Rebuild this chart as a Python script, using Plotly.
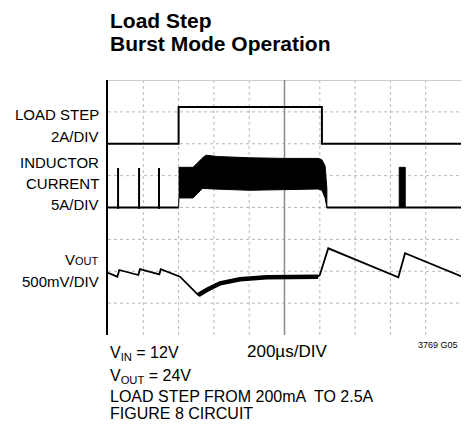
import plotly.graph_objects as go

# scope channel setup (division offset of each trace, units per division)
LOAD_OFFSET, LOAD_SCALE = 5.9, 2.0      # A/div
IL_OFFSET, IL_SCALE = 4.0, 5.0          # A/div
VOUT_OFFSET, VOUT_SCALE = 2.0, 500.0    # mV/div

# load step current (A) vs time (us)
load_t = [0, 400, 400, 1212, 1212, 2000]
load_a = [0.2, 0.2, 2.5, 2.5, 0.2, 0.2]

# inductor current: burst spikes before the step
spike_t = [57, 176, 289]
spike_peak = [6.2, 6.2, 6.2]
base_pre_t = [0, 400]
base_post_t = [1240, 2000]

# inductor current envelope during the step (A)
env_top_t = [400, 482, 540, 556, 620, 800, 1000, 1190, 1212, 1230, 1240]
env_top_a = [6.3, 6.3, 7.9, 8.2, 8.0, 7.8, 7.7, 7.7, 7.5, 6.5, 3.0]
env_bot_t = [400, 402, 482, 535, 600, 800, 1000, 1190, 1212, 1230, 1240]
env_bot_a = [0.0, 1.5, 1.5, 3.0, 2.9, 2.7, 2.8, 2.9, 2.7, 1.5, 0.0]

# single burst after the step
burst_t = [1650, 1684]
burst_peak = 6.3

# output voltage deviation (mV)
vout_t = [0, 53, 64, 172, 181, 291, 299, 408, 512, 559, 635, 748, 899,
          1190, 1200, 1248, 1645, 1683, 2000]
vout_mv = [-23, -85, 20, -59, 35, -48, 31, -85, -373, -294, -189, -126, -95,
           -85, -59, 360, -95, 282, -78]
thick_from, thick_to = 512, 1190

# graticule divisions
grid_t = [200, 400, 600, 800, 1200, 1400, 1600, 1800]
grid_div = [1, 2, 3, 4, 5, 6, 7]

FONT = "Liberation Sans, Arial, sans-serif"
PAGE = 8  # body margin of the html page
W, H = 474 - PAGE, 424 - PAGE
L, R, T, B = 108 - PAGE, 461 - PAGE, 80 - PAGE, 335 - PAGE


def div(vals, off, scale):
    return [off + v / scale if v is not None else None for v in vals]


fig = go.Figure()

# graticule (drawn below the traces)
for g in grid_t:
    fig.add_vline(x=g, layer="below", line=dict(color="#b8b8b8", width=1, dash="3px,3px"))
for g in grid_div:
    fig.add_hline(y=g, layer="below", line=dict(color="#b8b8b8", width=1, dash="3px,3px"))
fig.add_hline(y=8, layer="below", line=dict(color="#cccccc", width=2))
fig.add_vline(x=1000, layer="below", line=dict(color="#8a8a8a", width=1.5))

# load step
fig.add_trace(go.Scatter(x=load_t, y=div(load_a, LOAD_OFFSET, LOAD_SCALE),
                         mode="lines", line=dict(color="black", width=2)))

# inductor baseline + spikes
sx, sy = [], []
for t, p in zip(spike_t, spike_peak):
    sx += [t, t, None]
    sy += [-0.2, p, None]
fig.add_trace(go.Scatter(x=sx, y=div(sy, IL_OFFSET, IL_SCALE),
                         mode="lines", line=dict(color="black", width=2)))
for bt in (base_pre_t, base_post_t):
    fig.add_trace(go.Scatter(x=bt, y=div([0, 0], IL_OFFSET, IL_SCALE),
                             mode="lines", line=dict(color="black", width=2)))

# envelope during load
poly_t = env_top_t + env_bot_t[::-1]
poly_a = env_top_a + env_bot_a[::-1]
fig.add_trace(go.Scatter(x=poly_t, y=div(poly_a, IL_OFFSET, IL_SCALE), mode="lines",
                         fill="toself", fillcolor="black", line=dict(color="black", width=1)))

# burst after load release
bx = [burst_t[0], burst_t[0], burst_t[1], burst_t[1]]
by = [0, burst_peak, burst_peak, 0]
fig.add_trace(go.Scatter(x=bx, y=div(by, IL_OFFSET, IL_SCALE), mode="lines",
                         fill="toself", fillcolor="black", line=dict(color="black", width=1)))

# output voltage
fig.add_trace(go.Scatter(x=vout_t, y=div(vout_mv, VOUT_OFFSET, VOUT_SCALE),
                         mode="lines", line=dict(color="black", width=1.8)))
tk = [(t, v) for t, v in zip(vout_t, vout_mv) if thick_from <= t <= thick_to]
fig.add_trace(go.Scatter(x=[p[0] for p in tk], y=div([p[1] for p in tk], VOUT_OFFSET, VOUT_SCALE),
                         mode="lines", line=dict(color="black", width=4.5)))

axis = dict(showgrid=False, zeroline=False, showticklabels=False, ticks="")
fig.update_xaxes(range=[0, 2000], **axis)
fig.update_yaxes(range=[0, 8], showline=True, linecolor="black", linewidth=1.5, **axis)


def px(x):
    return (x - PAGE - L) / (R - L)


def py(y):
    return (B - (y - PAGE)) / (B - T)


ann = []


def text(s, x, y, size=15, xanchor="left", bold=False):
    if bold:
        s = "<b>" + s + "</b>"
    ann.append(dict(text=s, x=px(x), y=py(y), xref="paper", yref="paper",
                    xanchor=xanchor, yanchor="middle", showarrow=False,
                    font=dict(family=FONT, size=size, color="black")))


text("Load Step", 108, 21, 21, bold=True)
text("Burst Mode Operation", 108, 43, 21, bold=True)

text("LOAD STEP", 101, 114.5, xanchor="right")
text("2A/DIV", 101, 136.5, xanchor="right")
text("INDUCTOR", 101, 162.5, xanchor="right")
text("CURRENT", 101, 183, xanchor="right")
text("5A/DIV", 101, 204.5, xanchor="right")
text("V<span style='font-size:11px'>OUT</span>", 101, 260, xanchor="right")
text("500mV/DIV", 101, 281, xanchor="right")

text("V<sub>IN</sub> = 12V", 108, 353, 16)
text("200µs/DIV", 245, 351, 17)
text("3769 G05", 460, 345, 9, xanchor="right")
text("V<sub>OUT</sub> = 24V", 108, 376, 16)
text("LOAD STEP FROM 200mA  TO 2.5A", 108, 396, 16)
text("FIGURE 8 CIRCUIT", 108, 413, 16)

fig.update_layout(width=W, height=H, margin=dict(l=L, r=W - R, t=T, b=H - B),
                  plot_bgcolor="white", paper_bgcolor="white",
                  showlegend=False, annotations=ann)

fig.write_html("out.html")
